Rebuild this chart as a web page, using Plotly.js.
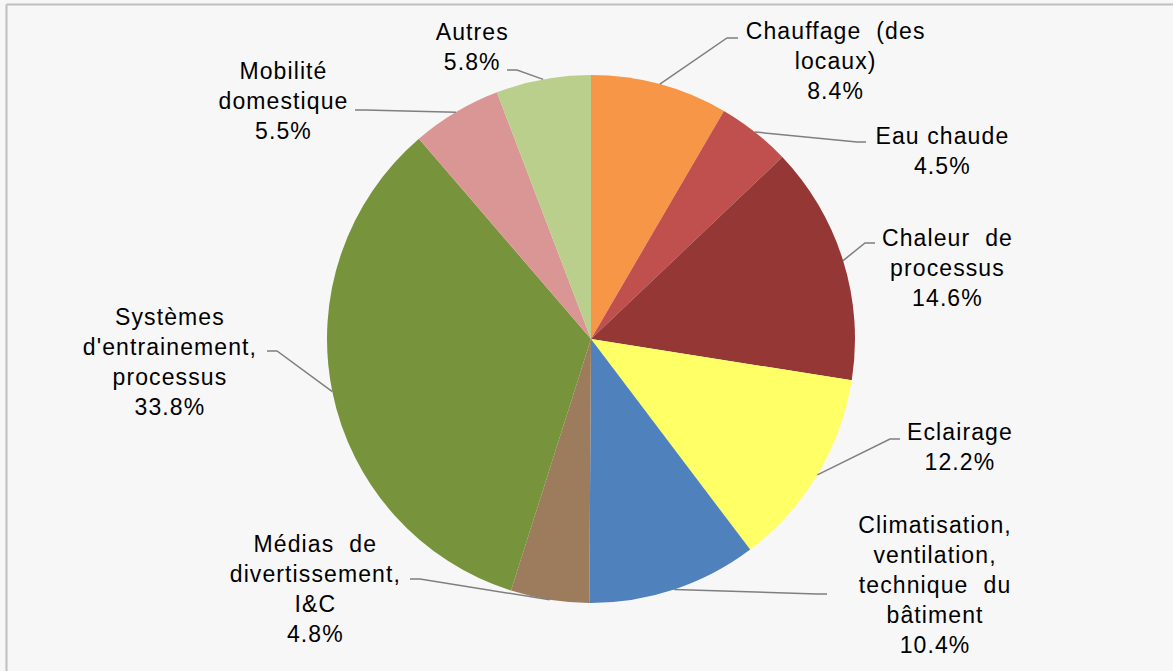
<!DOCTYPE html>
<html>
<head>
<meta charset="utf-8">
<script src="https://cdn.plot.ly/plotly-3.0.1.min.js"></script>
<style>
html,body{margin:0;padding:0;background:#f7f7f7;}
#chart{width:1173px;height:671px;}
#chart .annotation-text{letter-spacing:1.1px;}
</style>
</head>
<body>
<div id="chart"></div>
<script>
// ---- data ----
const categories = [
  "Chauffage (des locaux)",
  "Eau chaude",
  "Chaleur de processus",
  "Eclairage",
  "Climatisation, ventilation, technique du bâtiment",
  "Médias de divertissement, I&C",
  "Systèmes d'entrainement, processus",
  "Mobilité domestique",
  "Autres"
];
const values = [8.4, 4.5, 14.6, 12.2, 10.4, 4.8, 33.8, 5.5, 5.8];
const labelLines = [
  "Chauffage  (des<br>locaux)",
  "Eau chaude",
  "Chaleur  de<br>processus",
  "Eclairage",
  "Climatisation,<br>ventilation,<br>technique  du<br>bâtiment",
  "Médias  de<br>divertissement,<br>I&C",
  "Systèmes<br>d'entrainement,<br>processus",
  "Mobilité<br>domestique",
  "Autres"
];

// ---- style / layout ----
const colors = ["#F79646", "#C0504D", "#953735", "#FFFF66", "#4F81BD", "#9C7C5C", "#77933C", "#D99694", "#BACF8C"];
const W = 1173, H = 671;
const CX = 591, CY = 339, R = 264;
// label block centres (px)
const labelPos = [[835, 61], [942, 151], [947, 268], [960, 447], [935, 585], [315, 589], [170, 362], [283, 101], [472, 47]];
// leader line elbow and end points (px)
const leaderElbow = [[727, 38], [857, 142], [865, 243], [890, 439], [817, 594], [420, 579], [277, 351], [365, 110], [517, 70]];
const leaderEnd = [[738, 38], [866, 142], [875, 243], [900, 439], [827, 594], [410, 579], [267, 351], [355, 110], [507, 70]];

const px = x => x / W;
const py = y => 1 - y / H;

const total = values.reduce((a, b) => a + b, 0);
let cum = 0;
const shapes = [];
const annotations = [];
values.forEach((v, i) => {
  const mid = (cum + v / 2) / total * 2 * Math.PI;
  cum += v;
  const ex = CX + R * Math.sin(mid), ey = CY - R * Math.cos(mid);
  const [bx, by] = leaderElbow[i], [tx, ty] = leaderEnd[i];
  shapes.push({
    type: "path", xref: "paper", yref: "paper",
    path: `M ${px(ex)} ${py(ey)} L ${px(bx)} ${py(by)} L ${px(tx)} ${py(ty)}`,
    line: {color: "#7f7f7f", width: 1.5}
  });
  annotations.push({
    xref: "paper", yref: "paper", x: px(labelPos[i][0]), y: py(labelPos[i][1]),
    xanchor: "center", yanchor: "middle", showarrow: false, align: "center",
    text: labelLines[i] + "<br>" + v.toFixed(1) + "%",
    font: {family: "Liberation Sans, Arial, sans-serif", size: 23, color: "#000000"}
  });
});
// chart frame (left and top edges visible)
shapes.push({type: "line", xref: "paper", yref: "paper", x0: px(6.5), x1: px(6.5), y0: py(4.5), y1: -0.05, line: {color: "#bfbfbf", width: 2}});
shapes.push({type: "line", xref: "paper", yref: "paper", x0: px(6.5), x1: 1.05, y0: py(4.5), y1: py(4.5), line: {color: "#bfbfbf", width: 2}});

const trace = {
  type: "pie",
  labels: categories,
  values: values,
  sort: false,
  direction: "clockwise",
  rotation: 0,
  textinfo: "none",
  marker: {colors: colors, line: {width: 0}},
  domain: {x: [px(CX - R), px(CX + R)], y: [py(CY + R), py(CY - R)]},
  showlegend: false
};

Plotly.newPlot("chart", [trace], {
  width: W, height: H,
  margin: {l: 0, r: 0, t: 0, b: 0},
  paper_bgcolor: "#f7f7f7",
  plot_bgcolor: "#f7f7f7",
  showlegend: false,
  shapes: shapes,
  annotations: annotations
}, {staticPlot: true});
</script>
</body>
</html>
